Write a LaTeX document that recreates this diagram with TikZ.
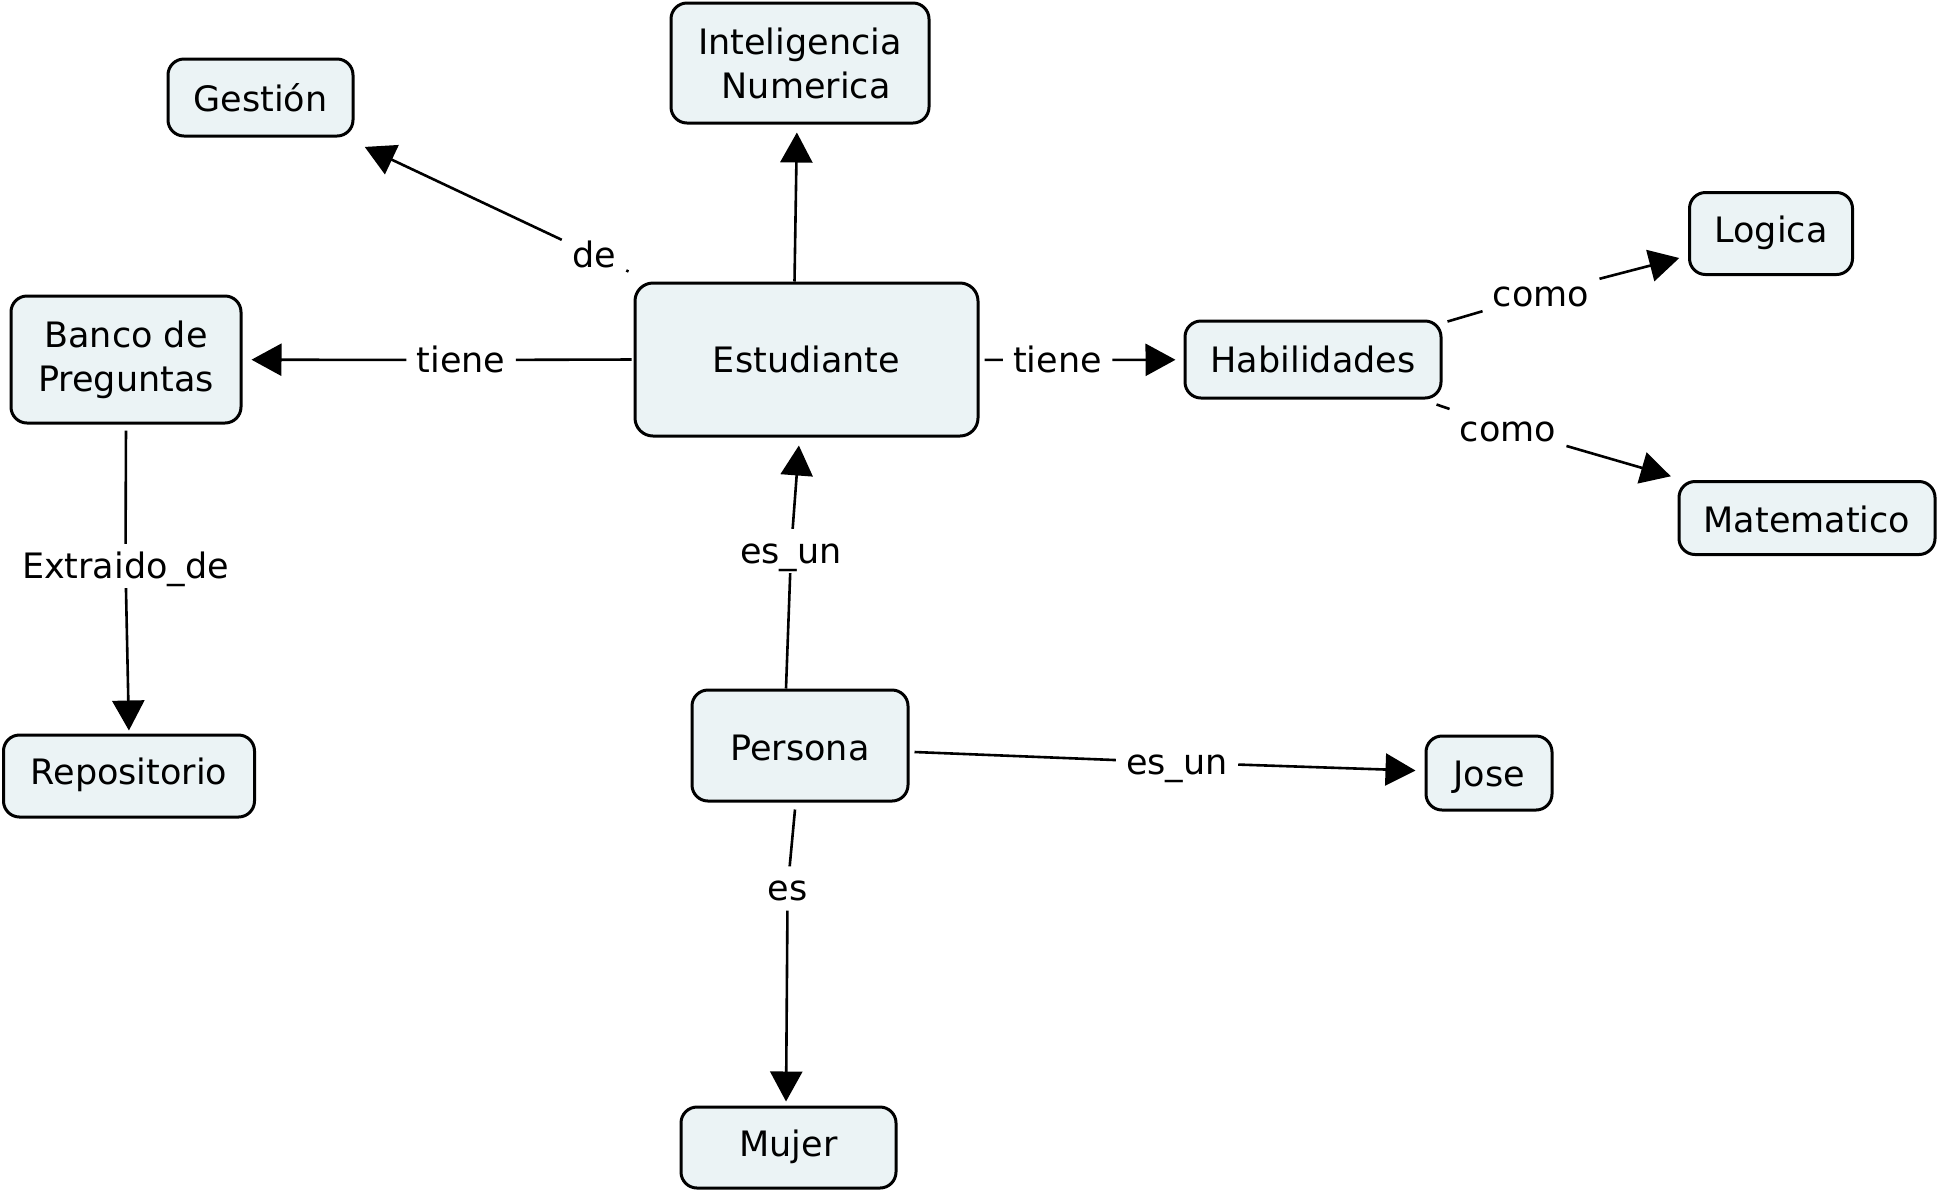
\documentclass[tikz,border=0pt]{standalone}
\usepackage{fontspec}
\setmainfont{DejaVu Sans}
\usetikzlibrary{arrows.meta,calc}
\definecolor{boxfill}{RGB}{235,243,245}
\begin{document}
\begin{tikzpicture}[x=0.5pt,y=-0.5pt,
  box/.style={draw, line width=1.5pt, fill=boxfill, rounded corners=8pt, inner sep=0pt, font=\fontsize{17.5}{22}\selectfont, text height=12.8pt, text depth=0pt},
  boxtwo/.style={draw, line width=1.5pt, fill=boxfill, rounded corners=8pt, inner sep=0pt, align=center, font=\fontsize{17.5}{22}\selectfont},
  lbl/.style={inner xsep=5pt, inner ysep=3pt, font=\fontsize{17.5}{22}\selectfont, text height=14pt, text depth=1.75pt},
  line/.style={line width=1.3pt},
  conn/.style={line width=1.3pt, -{Triangle[length=15pt,width=16pt]}, shorten >=4pt}
]
\fill[white] (0,0) rectangle (1943,1196);
\useasboundingbox (0,0) rectangle (1943,1196);

% concepts
\node[box, minimum width=92.5pt, minimum height=38.5pt, text height=13.8pt] (gest) at (260.5,97.5) {Gestión};
\node[boxtwo, minimum width=129pt, minimum height=60pt] (intel) at (800,63) {Inteligencia\\\hspace*{0.35em}Numerica};
\node[box, minimum width=171.5pt, minimum height=76.5pt, rounded corners=9pt] (est) at (806.5,359.5) {Estudiante};
\node[boxtwo, minimum width=115pt, minimum height=63.5pt] (banco) at (126,359.5) {Banco de\\Preguntas};
\node[box, minimum width=125.5pt, minimum height=41pt, text depth=4pt] (repo) at (129,776) {Repositorio};
\node[box, minimum width=128pt, minimum height=38.5pt] (habil) at (1313,359.5) {Habilidades};
\node[box, minimum width=81.5pt, minimum height=41pt, text depth=4pt] (logica) at (1771,233.5) {Logica};
\node[box, minimum width=128pt, minimum height=36.5pt, text height=14.8pt] (matem) at (1807,518) {Matematico};
\node[box, minimum width=108pt, minimum height=55.5pt, text height=14.8pt] (persona) at (800,745.5) {Persona};
\node[box, minimum width=63pt, minimum height=37pt, text height=13.8pt] (jose) at (1489,773) {Jose};
\node[box, minimum width=107.5pt, minimum height=40.5pt, text depth=3.5pt] (mujer) at (788.5,1147.5) {Mujer};

% linking phrases
\node[lbl] (lde) at (594,255) {de};
\node[lbl] (ltl) at (461,360) {tiene};
\node[lbl] (ltr) at (1057.5,360) {tiene};
\node[lbl] (lcu) at (1541,294) {como};
\node[lbl] (lcl) at (1508,429) {como};
\node[lbl] (lesa) at (791,551) {es\_un};
\node[lbl] (lext) at (125.5,566) {Extraido\_de};
\node[lbl] (lesb) at (1177,762.5) {es\_un};
\node[lbl] (les) at (787.6,888.5) {es};

% connectors
\draw[line] ($(est.north west)+(-5,-10)$) -- (lde);
\draw[conn] (lde) -- ($(gest.south east)+(3,6)$);

\draw[conn] ($(est.north)+(-12,0)$) -- ($(intel.south)+(-3,0)$);

\draw[line, shorten <=1pt] (est.west) -- (ltl);
\draw[conn, shorten >=4.5pt] (ltl) -- (banco);

\draw[line, shorten <=2.5pt] (est) -- (ltr);
\draw[conn] (ltr) -- (habil);

\draw[line] ($(habil.north east)+(5,2)$) -- (lcu);
\draw[conn] (lcu) -- ($(logica.south west)+(-1,-20)$);

\draw[line] ($(habil.south east)+(-6,5)$) -- (lcl);
\draw[conn] (lcl) -- ($(matem.north west)+(1,-1.5)$);

\draw[line] ($(persona.north)+(-14,0)$) -- (lesa);
\draw[conn] (lesa) -- ($(est.south)+(-7,0)$);

\draw[line, shorten <=3pt] (banco.south) -- (lext);
\draw[conn, shorten >=1.5pt] (lext) -- (repo.north);

\draw[line] ($(persona.east)+(5,6.5)$) -- (lesb);
\draw[conn, shorten >=4.5pt] (lesb) -- (jose);

\draw[line] ($(persona.south)+(-5,7)$) -- (les);
\draw[conn, shorten >=2pt] (les) -- ($(mujer.north)+(-2.5,0)$);
\end{tikzpicture}
\end{document}
